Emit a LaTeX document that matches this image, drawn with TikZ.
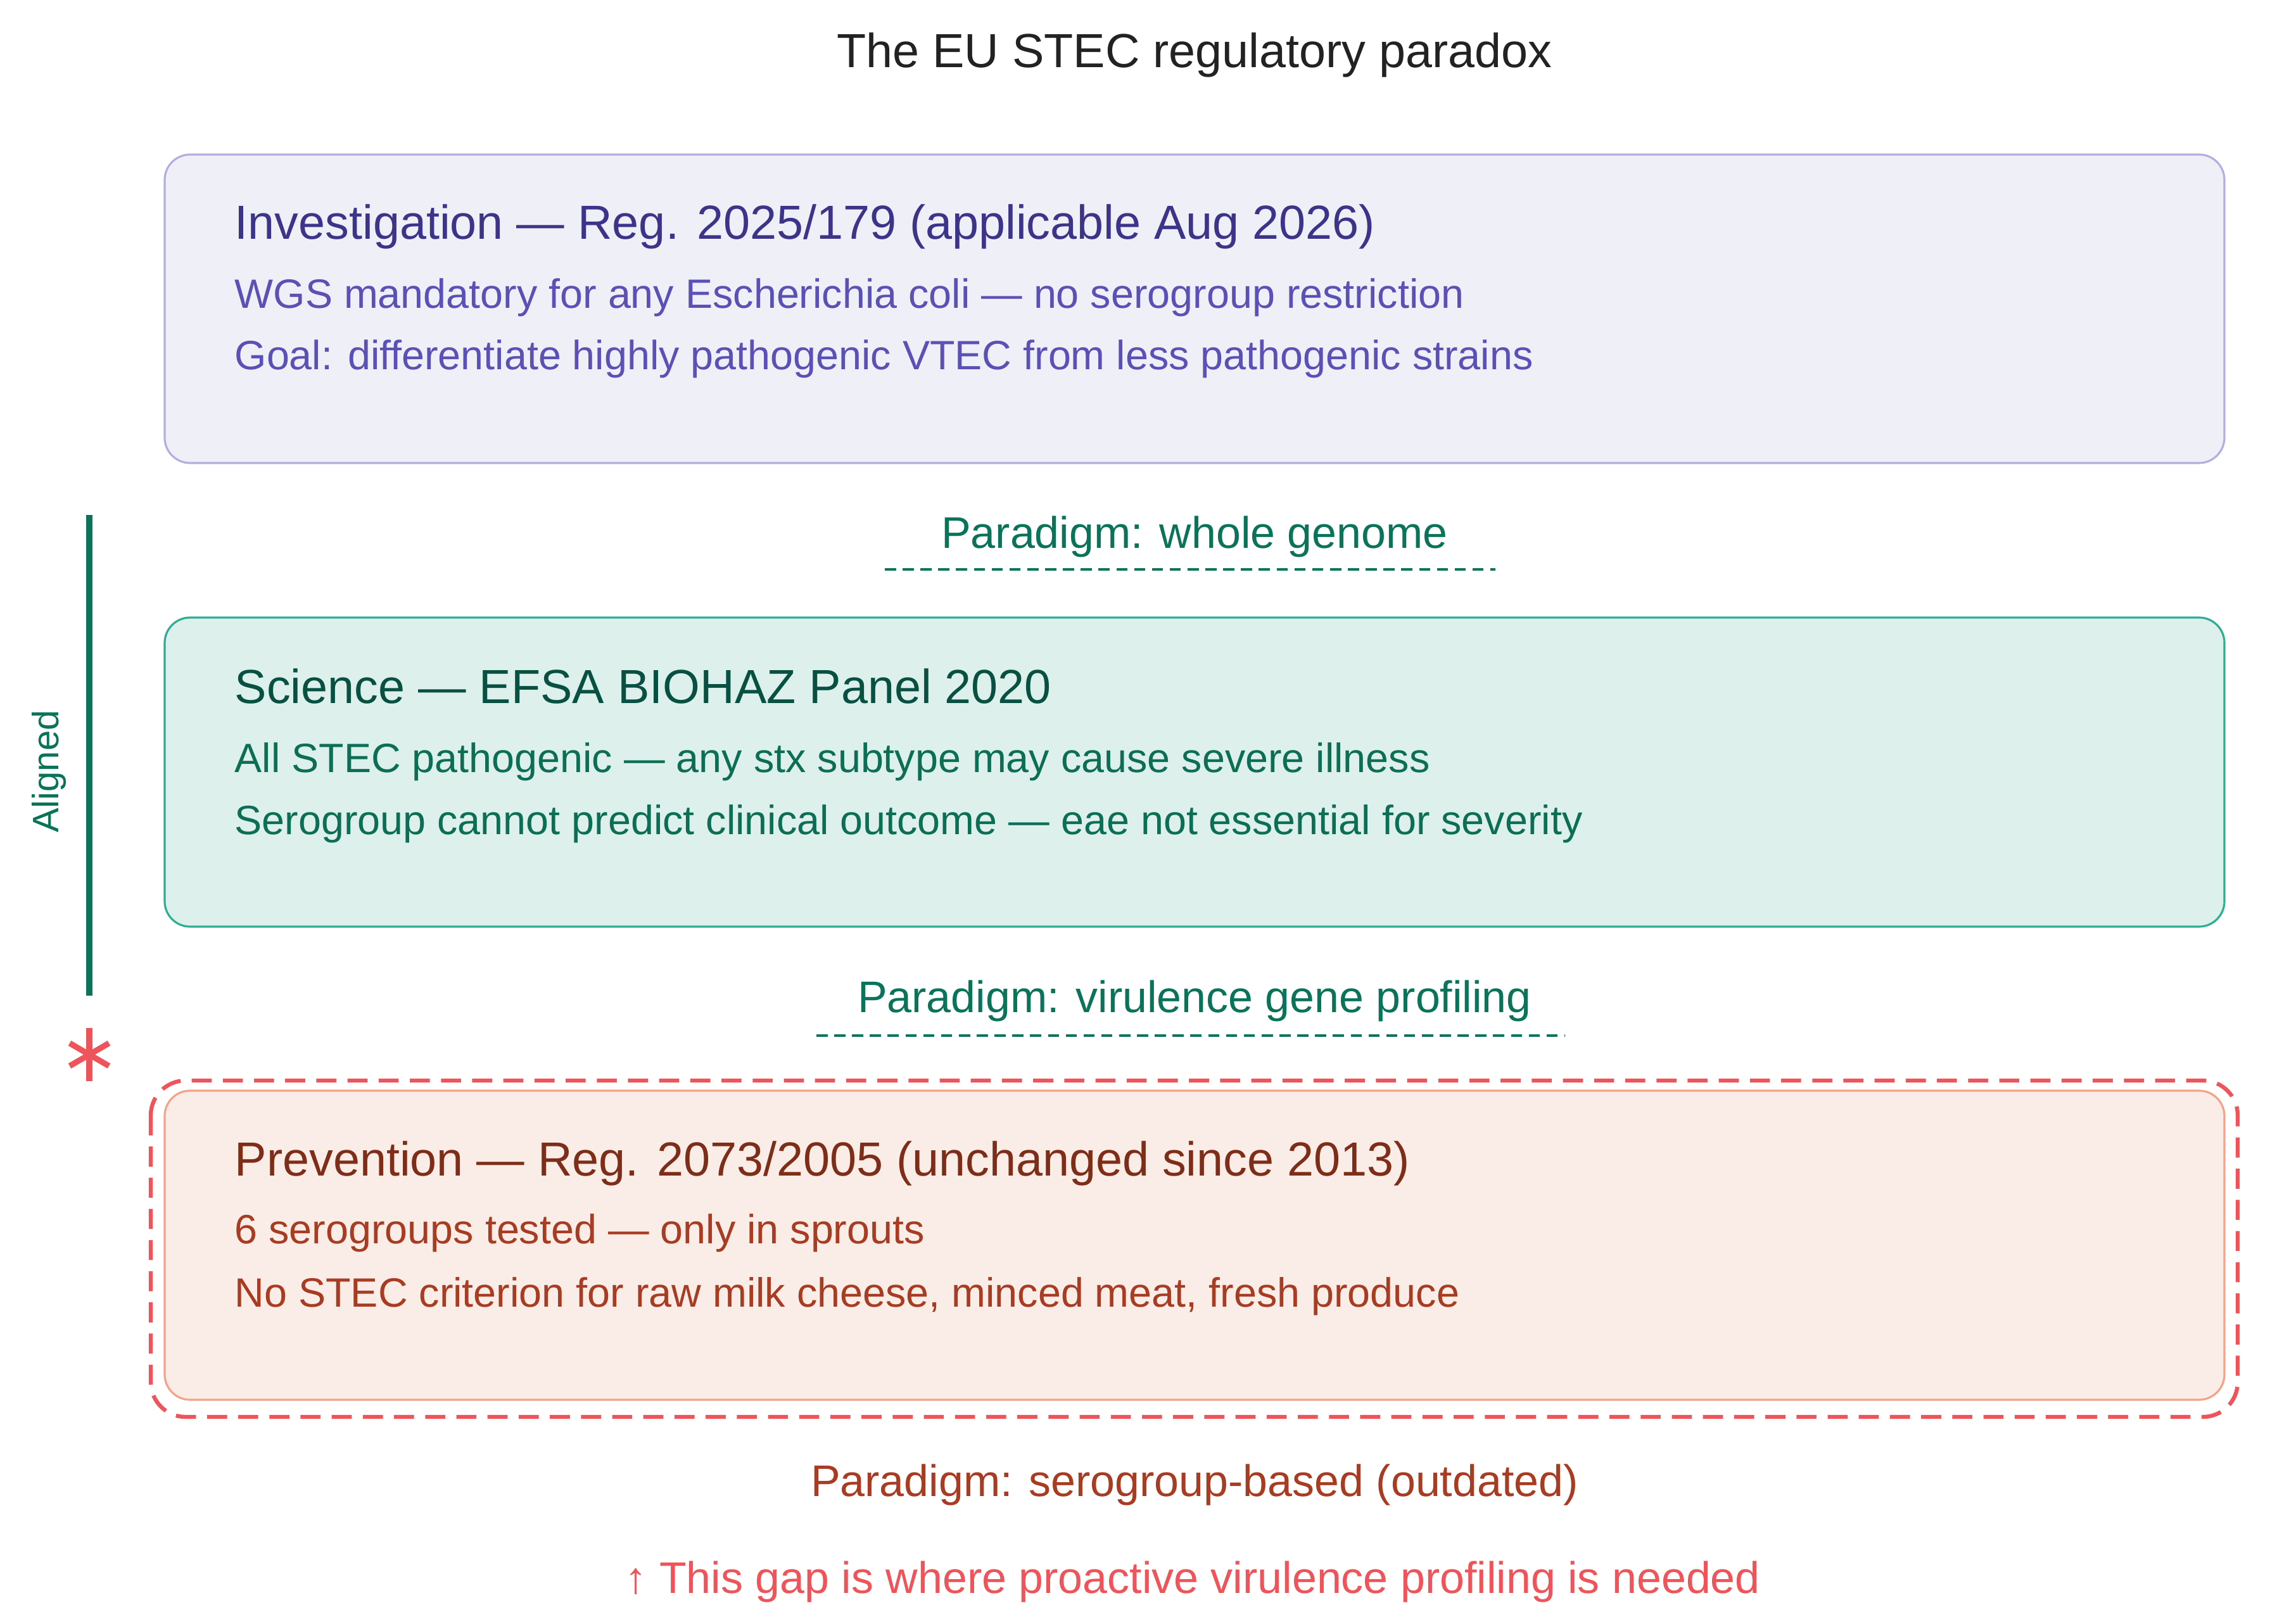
\documentclass[tikz,border=0pt]{standalone}
\usepackage{fontspec}
\setmainfont{Liberation Sans}
\definecolor{titlegray}{HTML}{222222}
\definecolor{invfill}{HTML}{EFEFF8}
\definecolor{invline}{HTML}{B4AEE0}
\definecolor{invdark}{HTML}{3C3489}
\definecolor{invtext}{HTML}{5A50B5}
\definecolor{scifill}{HTML}{DDF0EC}
\definecolor{sciline}{HTML}{2BAE93}
\definecolor{scidark}{HTML}{085041}
\definecolor{scitext}{HTML}{0B6E55}
\definecolor{prefill}{HTML}{FAECE7}
\definecolor{preline}{HTML}{F4A288}
\definecolor{predark}{HTML}{7E2E18}
\definecolor{pretext}{HTML}{A83C22}
\definecolor{gapred}{HTML}{EE5459}
\definecolor{aligngreen}{HTML}{0A735A}
\tikzset{
  regbox/.style={rounded corners=0.4cm, line width=0.9pt},
  headtext/.style={anchor=base west, inner sep=0pt, font=\fontsize{21.5}{26}\selectfont},
  bodytext/.style={anchor=base west, inner sep=0pt, font=\fontsize{18.4}{22}\selectfont},
  paratext/.style={anchor=base, inner sep=0pt, font=\fontsize{19.9}{24}\selectfont},
  paraline/.style={aligngreen, line width=1pt, dash pattern=on 5pt off 3pt},
}
\begin{document}
\begin{tikzpicture}
\useasboundingbox (0,0) rectangle (35.84,-25.64);

\node[anchor=base, inner sep=0pt, font=\fontsize{21.5}{26}\selectfont, titlegray] (title) at (18.86,-1.07) {The EU STEC regulatory paradox};

% investigation
\draw[regbox, draw=invline, fill=invfill] (2.60,-2.44) rectangle (35.12,-7.31);
\node[headtext, invdark] (invhead) at (3.70,-3.78) {Investigation — Reg. 2025/179 (applicable Aug 2026)};
\node[bodytext, invtext] (invwgs) at (3.70,-4.87) {WGS mandatory for any Escherichia coli — no serogroup restriction};
\node[bodytext, invtext] (invgoal) at (3.70,-5.84) {Goal: differentiate highly pathogenic VTEC from less pathogenic strains};

\node[paratext, aligngreen] (parawgs) at (18.86,-8.66) {Paradigm: whole genome};
\draw[paraline] (13.97,-8.99) -- (23.61,-8.99);

% science
\draw[regbox, draw=sciline, fill=scifill] (2.60,-9.75) rectangle (35.12,-14.63);
\node[headtext, scidark] (scihead) at (3.70,-11.10) {Science — EFSA BIOHAZ Panel 2020};
\node[bodytext, scitext] (scistx) at (3.70,-12.19) {All STEC pathogenic — any stx subtype may cause severe illness};
\node[bodytext, scitext] (scisero) at (3.70,-13.17) {Serogroup cannot predict clinical outcome — eae not essential for severity};

\node[paratext, aligngreen] (paravir) at (18.86,-15.98) {Paradigm: virulence gene profiling};
\draw[paraline] (12.89,-16.35) -- (24.71,-16.35);

% aligned bar and mismatch mark
\draw[aligngreen, line width=2.8pt] (1.41,-8.13) -- (1.41,-15.72);
\node[rotate=90, font=\fontsize{16.5}{20}\selectfont, aligngreen] (aligned) at (0.78,-12.18) {Aligned};
\draw[gapred, line width=2.6pt] (1.41,-16.23) -- (1.41,-17.07);
\draw[gapred, line width=2.6pt] (1.10,-16.47) -- (1.72,-16.83);
\draw[gapred, line width=2.6pt] (1.10,-16.83) -- (1.72,-16.47);

% prevention
\draw[gapred, line width=1.8pt, dash pattern=on 9pt off 5pt, rounded corners=0.55cm] (2.38,-17.06) rectangle (35.33,-22.37);
\draw[regbox, draw=preline, fill=prefill] (2.60,-17.22) rectangle (35.12,-22.10);
\node[headtext, predark] (prehead) at (3.70,-18.56) {Prevention — Reg. 2073/2005 (unchanged since 2013)};
\node[bodytext, pretext] (presero) at (3.70,-19.63) {6 serogroups tested — only in sprouts};
\node[bodytext, pretext] (premilk) at (3.70,-20.63) {No STEC criterion for raw milk cheese, minced meat, fresh produce};

\node[paratext, pretext] (parasero) at (18.86,-23.62) {Paradigm: serogroup-based (outdated)};
\node[paratext, gapred] (gapnote) at (18.83,-25.15) {↑ This gap is where proactive virulence profiling is needed};
\end{tikzpicture}
\end{document}
